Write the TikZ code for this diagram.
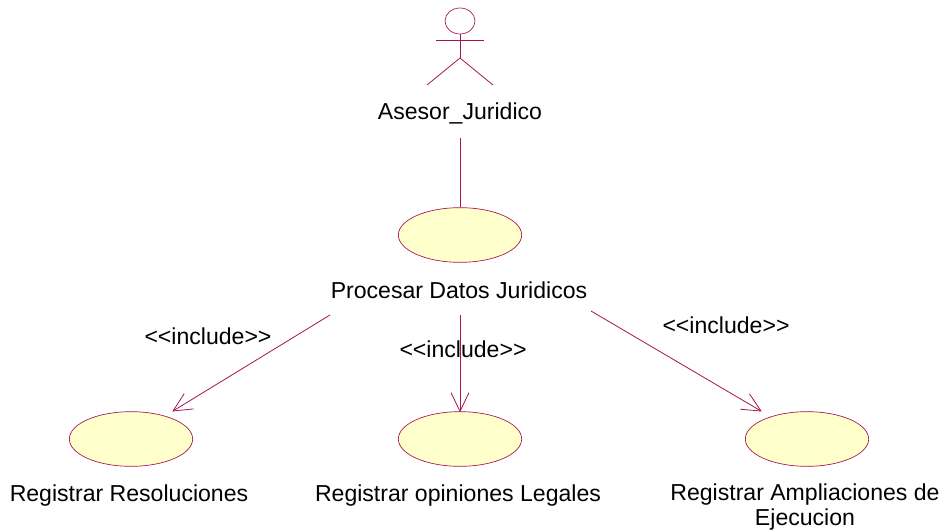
\documentclass[tikz,border=0pt]{standalone}
\usepackage{fontspec}
\setmainfont{Liberation Sans}
\usetikzlibrary{shapes.geometric,arrows.meta}
\definecolor{umlline}{RGB}{165,20,80}
\definecolor{umlfill}{RGB}{255,255,204}
\pgfdeclarearrow{
    name = OpenVee,
    parameters = {\the\pgfarrowlength},
    setup code = {\pgfarrowssettipend{0pt}\pgfarrowssetlineend{-0.5pt}\pgfarrowssavethe\pgfarrowlength},
    drawing code = {
        \pgfsetdash{}{0pt}
        \pgfsetmiterjoin
        \pgfpathmoveto{\pgfpoint{-\pgfarrowlength}{0.48\pgfarrowlength}}
        \pgfpathlineto{\pgfpointorigin}
        \pgfpathlineto{\pgfpoint{-\pgfarrowlength}{-0.48\pgfarrowlength}}
        \pgfusepathqstroke
    },
    defaults = {length=14pt}
}
\begin{document}
\begin{tikzpicture}[
        x=0.75pt,y=-0.75pt,
        font=\fontsize{17.3pt}{18.5pt}\selectfont
    ]
    \tikzset{
        usecase/.style = {ellipse, draw=umlline, fill=umlfill, line width=0.5pt, inner sep=0pt, minimum width=92.5pt, minimum height=41pt},
        actorhead/.style = {ellipse, draw=umlline, line width=0.5pt, inner sep=0pt, minimum width=22.5pt, minimum height=19.5pt},
        umlline/.style = {draw=umlline, line width=0.6pt},
        includeline/.style = {umlline, -{OpenVee[length=14pt]}},
        umltext/.style = {align=center, inner sep=0pt, text=black},
    }
    \useasboundingbox (0,0) rectangle (947,532);
    % actor
    \node[actorhead] (head) at (460,21) {};
    \coordinate (neck) at (460,58);
    \coordinate (armleft) at (436,40);
    \coordinate (armright) at (484,40);
    \coordinate (footleft) at (427,85);
    \coordinate (footright) at (493,85);
    \draw[umlline] (head) -- (neck);
    \draw[umlline] (armleft) -- (armright);
    \draw[umlline] (footleft) -- (neck) -- (footright);
    \node[umltext] (asesor) at (460,113) {Asesor\_Juridico};
    % use cases
    \node[usecase] (procesar) at (460,235) {};
    \node[usecase] (resoluciones) at (131,439) {};
    \node[usecase] (opiniones) at (460,439) {};
    \node[usecase] (ampliaciones) at (807,439) {};
    \node[umltext] (procesartext) at (459,290) {Procesar Datos Juridicos};
    \node[umltext] (resolucionestext) at (129,496) {Registrar Resoluciones};
    \node[umltext] (opinionestext) at (458,496) {Registrar opiniones Legales};
    \node[umltext] (ampliacionestext) at (805,507) {Registrar Ampliaciones de\\Ejecucion};
    % connectors
    \coordinate (actorend) at (460,138);
    \coordinate (startleft) at (330,315);
    \coordinate (startmid) at (460,315);
    \coordinate (startright) at (591,311);
    \coordinate (endleft) at (173,411);
    \coordinate (endright) at (761,411);
    \draw[umlline] (actorend) -- (procesar);
    \draw[includeline] (startleft) -- (endleft);
    \draw[includeline] (startmid) -- (opiniones);
    \draw[includeline] (startright) -- (endright);
    \node[umltext] (includeleft) at (208,336) {<{}<include>{}>};
    \node[umltext] (includemid) at (463,349) {<{}<include>{}>};
    \node[umltext] (includeright) at (726,325) {<{}<include>{}>};
\end{tikzpicture}
\end{document}
